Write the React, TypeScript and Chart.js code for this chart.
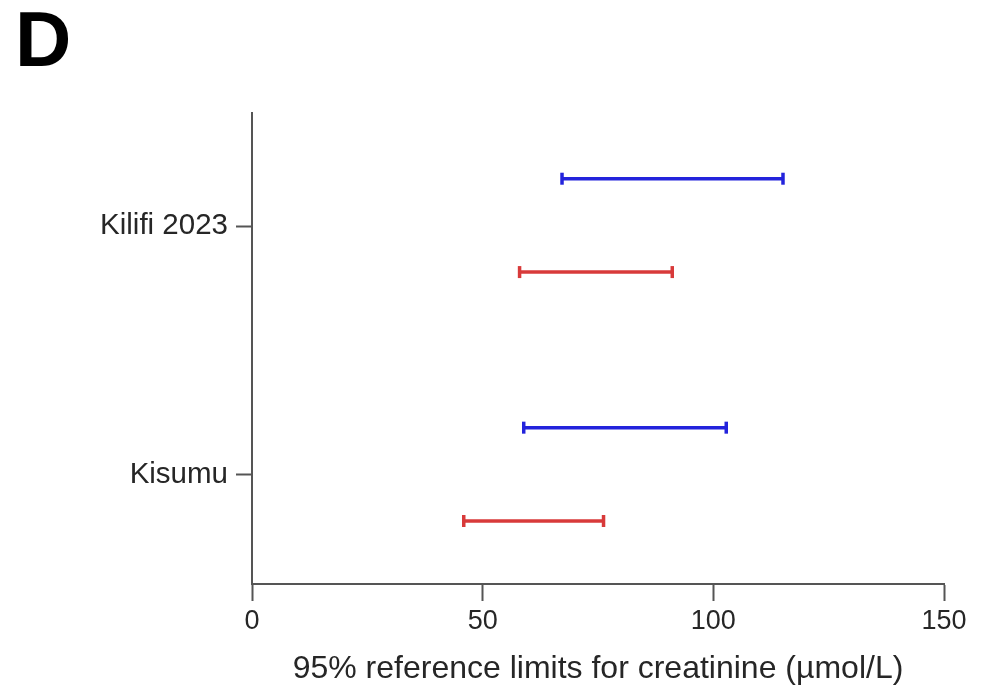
import React, { useEffect, useRef } from "react";
import { Chart, registerables } from "chart.js";

Chart.register(...registerables);

// Data
const sites = ["Kilifi 2023", "Kisumu"];
const blueLow = [67.2, 58.9];
const blueHigh = [115.1, 102.8];
const redLow = [58.0, 45.9];
const redHigh = [91.1, 76.2];
const xTicks = [0, 50, 100, 150];
const xTitle = "95% reference limits for creatinine (µmol/L)";

const BLUE = "#2323dc";
const RED = "#d83a3a";
const AXIS = "#555555";
const TEXT = "#262626";
const FONT = "'Liberation Sans', Arial, sans-serif";

export default function App() {
  const ref = useRef<HTMLCanvasElement | null>(null);

  useEffect(() => {
    if (!ref.current) return;
    const n = sites.length;
    const sitePos = (i: number) => n - i; // Kilifi = 2, Kisumu = 1
    const datasets: any[] = [];
    const mk = (label: string, lo: number, hi: number, y: number, color: string) => ({
      label,
      data: [
        { x: lo, y },
        { x: hi, y },
      ],
      borderColor: color,
      backgroundColor: color,
      borderWidth: 3.5,
      pointStyle: "line",
      pointRotation: 90,
      pointRadius: 6,
      pointBorderWidth: 3.5,
      pointBorderColor: color,
    });
    sites.forEach((s, i) => {
      datasets.push(mk(s + " blue", blueLow[i], blueHigh[i], sitePos(i) + 0.19, BLUE));
      datasets.push(mk(s + " red", redLow[i], redHigh[i], sitePos(i) - 0.185, RED));
    });

    const chart = new Chart(ref.current, {
      type: "line",
      data: { datasets },
      options: {
        responsive: false,
        animation: false,
        layout: { padding: { left: 0, right: 54, top: 113, bottom: 0 } },
        plugins: { legend: { display: false }, tooltip: { enabled: false } },
        scales: {
          x: {
            type: "linear",
            min: 0,
            max: 150,
            afterBuildTicks: (scale: any) => {
              scale.ticks = xTicks.map((v) => ({ value: v }));
            },
            afterFit: (scale: any) => {
              scale.height = 106;
            },
            ticks: {
              color: TEXT,
              font: { family: FONT, size: 27 },
              padding: 4,
              maxRotation: 0,
            },
            grid: {
              drawOnChartArea: false,
              drawTicks: true,
              tickLength: 17,
              tickWidth: 2,
              tickColor: AXIS,
            },
            border: { display: true, color: AXIS, width: 2 },
            title: {
              display: true,
              text: xTitle,
              color: TEXT,
              font: { family: FONT, size: 32 },
              padding: { top: 4, bottom: 2 },
            },
          },
          y: {
            type: "linear",
            min: 0.562,
            max: 2.454,
            afterBuildTicks: (scale: any) => {
              scale.ticks = sites.map((_, i) => ({ value: sitePos(i) }));
            },
            afterFit: (scale: any) => {
              scale.width = 252;
            },
            ticks: {
              color: TEXT,
              font: { family: FONT, size: 29.5 },
              padding: 8,
              callback: (v: any) => {
                const idx = n - Math.round(Number(v));
                return sites[idx] ?? "";
              },
            },
            grid: {
              drawOnChartArea: false,
              drawTicks: true,
              tickLength: 16,
              tickWidth: 2,
              tickColor: AXIS,
            },
            border: { display: true, color: AXIS, width: 2 },
          },
        },
      },
    });
    return () => chart.destroy();
  }, []);

  return (
    <div style={{ position: "absolute", left: 0, top: 0, width: 998, height: 690, background: "#fff" }}>
      <canvas ref={ref} width={998} height={690} style={{ position: "absolute", left: 0, top: 0 }} />
      <div
        style={{
          position: "absolute",
          left: 15,
          top: 0,
          fontFamily: FONT,
          fontWeight: "bold",
          fontSize: 78,
          lineHeight: 1,
          color: "#000",
        }}
      >
        D
      </div>
    </div>
  );
}
